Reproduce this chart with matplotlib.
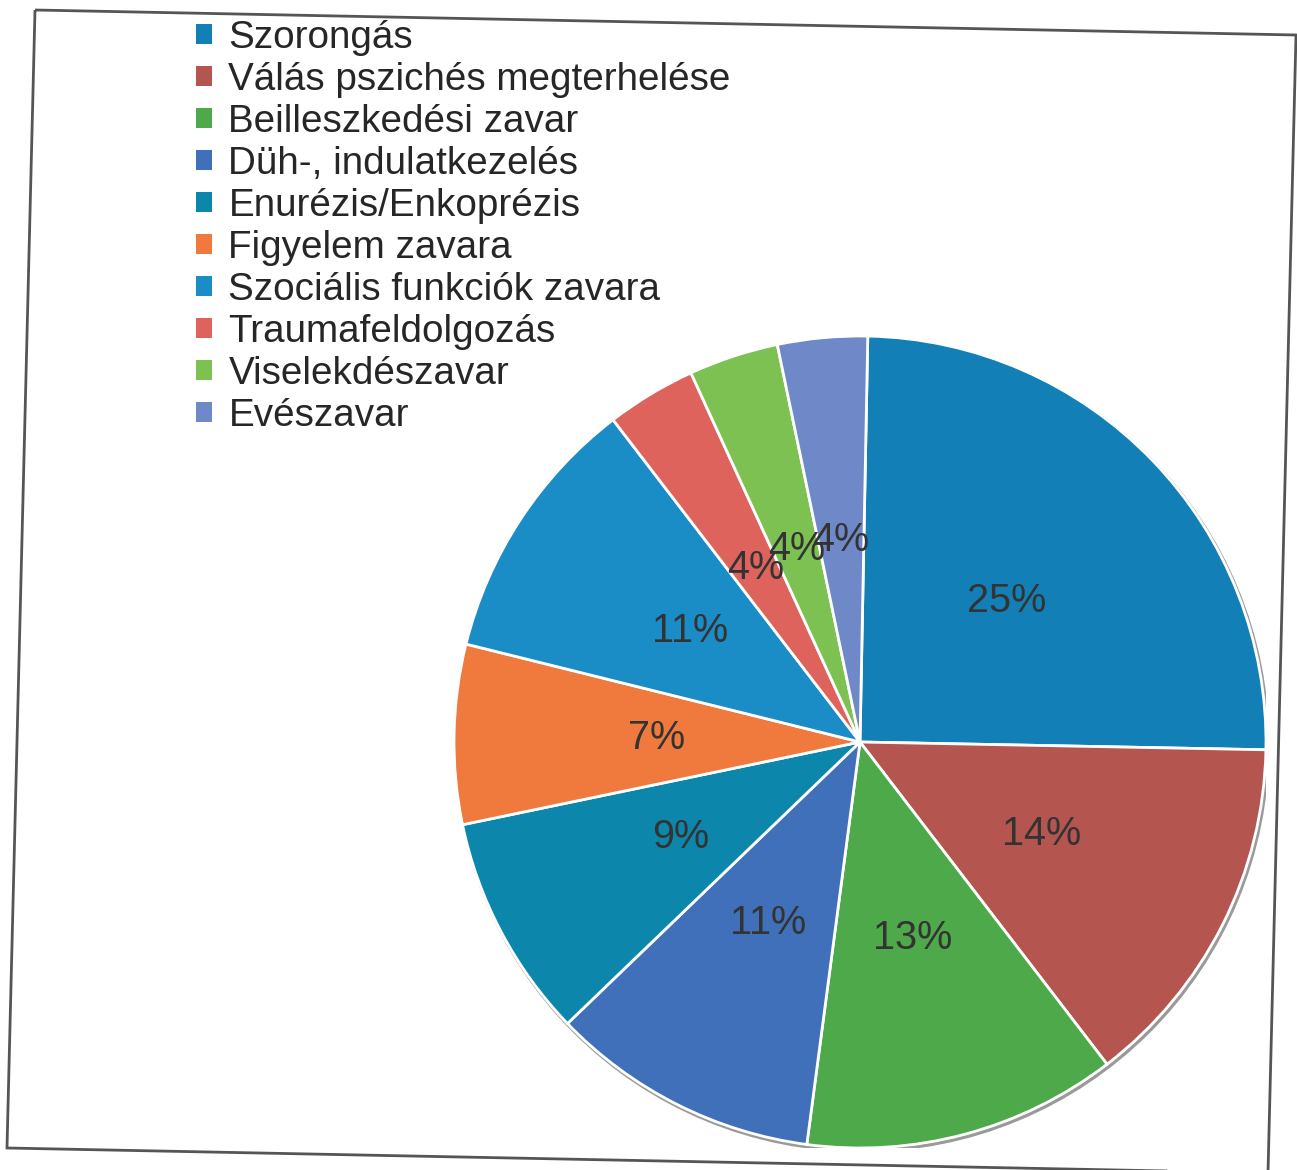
import matplotlib
matplotlib.use("Agg")
import math
import numpy as np
import matplotlib.pyplot as plt
from matplotlib.patches import Patch, Polygon, Circle

categories = [
    "Szorongás",
    "Válás pszichés megterhelése",
    "Beilleszkedési zavar",
    "Düh-, indulatkezelés",
    "Enurézis/Enkoprézis",
    "Figyelem zavara",
    "Szociális funkciók zavara",
    "Traumafeldolgozás",
    "Viselekdészavar",
    "Evészavar",
]
# counts (slice sizes: 25%, 14%, 13%, 11%, 9%, 7%, 11%, 4%, 4%, 4%)
counts = [14, 8, 7, 6, 5, 4, 6, 2, 2, 2]
colors = [
    "#1280b6", "#b5554f", "#4ea94a", "#4070ba", "#0c86aa",
    "#f07a3e", "#1a8cc6", "#df635d", "#7cc152", "#6f89c8",
]

total = sum(counts)
pct_labels = [f"{math.floor(100 * c / total + 0.5)}%" for c in counts]

W, H = 1297, 1170
fig = plt.figure(figsize=(W / 100, H / 100), dpi=100)
fig.patch.set_facecolor("white")

# outer frame (scanned, slightly rotated)
frame = Polygon([(35 / W, 1 - 10 / H), (1296 / W, 1 - 35 / H),
                 (1268 / W, 1 - 1173 / H), (7 / W, 1 - 1148 / H)],
                closed=True, fill=False, edgecolor="#555555", linewidth=2,
                transform=fig.transFigure)
fig.add_artist(frame)

cx, cy, r = 860, 742, 406
ax = fig.add_axes([(cx - r) / W, (H - cy - r) / H, 2 * r / W, 2 * r / H])
ax.add_patch(Circle((0.004, -0.006), 1.0, facecolor="none",
                    edgecolor="#9a9a9a", linewidth=2.5, zorder=0))
wedges, _ = ax.pie(counts, colors=colors, startangle=88.9, counterclock=False,
                   wedgeprops=dict(edgecolor="white", linewidth=2))
for w, lab in zip(wedges, pct_labels):
    ang = np.deg2rad((w.theta1 + w.theta2) / 2)
    ax.text(0.5 * np.cos(ang), 0.5 * np.sin(ang), lab, ha="center", va="center",
            fontsize=28.5, color="#333333", family=["Liberation Sans", "DejaVu Sans"])
ax.set_xlim(-1, 1)
ax.set_ylim(-1, 1)
ax.set_aspect("equal")
ax.axis("off")

handles = [Patch(facecolor=c, edgecolor="none") for c in colors]
leg = fig.legend(handles, categories, loc="upper left",
                 bbox_to_anchor=(196 / W, 1 - 20 / H), frameon=False,
                 prop=dict(family=["Liberation Sans", "DejaVu Sans"], size=27.8),
                 handlelength=0.42, handleheight=0.42, handletextpad=0.42,
                 labelspacing=0.155, borderpad=0, borderaxespad=0)
for t in leg.get_texts():
    t.set_color("#262626")

fig.savefig("out.png", dpi=100, facecolor="white")
